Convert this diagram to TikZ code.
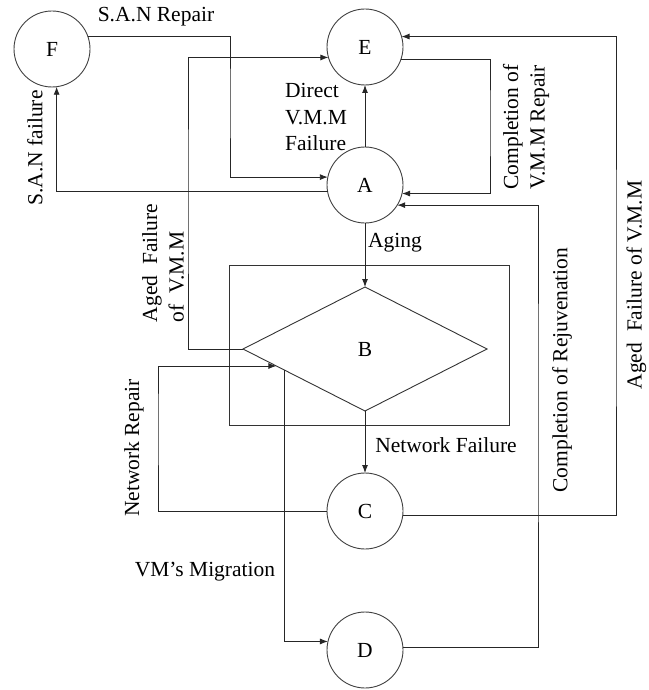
\documentclass[tikz,border=0pt]{standalone}
\usepackage{fontspec}
\setmainfont{Liberation Serif}
\usetikzlibrary{arrows.meta,shapes.geometric,calc}

\begin{document}
\begin{tikzpicture}[x=1pt,y=-1pt,
  every node/.style={font=\fontsize{21.5}{26.5}\selectfont},
  state/.style={circle,draw=black!75,line width=0.9pt,minimum size=76pt,inner sep=0pt,outer sep=0pt},
  decision/.style={diamond,draw=black!80,line width=0.9pt,minimum width=244pt,minimum height=124pt,inner sep=0pt,outer sep=0pt},
  framebox/.style={rectangle,draw=black!80,line width=0.9pt,minimum width=280pt,minimum height=160pt,inner sep=0pt,outer sep=0pt},
  link/.style={draw=black!85,line width=0.9pt},
  arr/.style={link,-{Latex[length=8pt,width=6pt]}},
  lbl/.style={inner sep=0pt,text=black}
]
\useasboundingbox (0,0) rectangle (648,690);

% frame around the decision node
\node[framebox] (frameB) at (369,345) {};

% states
\node[state] (F) at (52,49)  {F};
\node[state] (E) at (365,47) {E};
\node[state] (A) at (365,185) {A};
\node[decision] (B) at (365,349) {B};
\node[state] (C) at (365,511) {C};
\node[state] (D) at (365,650) {D};

% bend points of the orthogonal connectors
\coordinate (sanrep) at (230,100);
\coordinate (agedL)  at (188,200);
\coordinate (vmmrep) at (490,120);
\coordinate (rejuv)  at (538,400);
\coordinate (agedR)  at (616,300);
\coordinate (netrep) at (158,420);
\coordinate (netin)  at ($(B.west)!0.274!(B.south)$);
\coordinate (vmout)  at ($(B.west)!0.336!(B.south)$);

% S.A.N repair: F -> A
\draw[arr] (F.20) -| (sanrep) |- (A.168);
% S.A.N failure: A -> F
\draw[arr] (A.190.6) -| (F.277.6);
% aged failure of V.M.M (left): B -> E
\draw[arr] (B.west) -| (agedL) |- (E.196.8);
% direct V.M.M failure: A -> E
\draw[arr] (A.north) -- (E.south);
% completion of V.M.M repair: E -> A
\draw[arr] (E.341.6) -| (vmmrep) |- (A.347.8);
% completion of rejuvenation: D -> A
\draw[arr] (D.4.5) -| (rejuv) |- (A.-32.6);
% aged failure of V.M.M (right): C -> E
\draw[arr] (C.-6) -| (agedR) |- (E.16.8);
% aging: A -> B
\draw[arr] (A.south) -- (B.north);
% network failure: B -> C
\draw[arr] (B.south) -- (C.north);
% network repair: C -> B
\draw[arr] (C.181.5) -| (netrep) |- (netin);
% VM's migration: B -> D
\draw[arr] (vmout) |- (D.167.8);

% labels
\node[lbl] (lSanRep) at (156,17) {S.A.N Repair};
\node[lbl,rotate=90] (lSanFail) at (35,148) {S.A.N failure};
\node[lbl,align=left,anchor=west] (lDirect) at (285,117) {Direct\\V.M.M\\Failure};
\node[lbl,rotate=90,align=left] (lVmmRep) at (526,127) {Completion of\\V.M.M Repair};
\node[lbl,rotate=90,align=left] (lAgedL) at (163,263) {Aged\ \ Failure\\of\ \ V.M.M};
\node[lbl] (lAging) at (395,243) {Aging};
\node[lbl,rotate=90] (lNetRep) at (134,448) {Network Repair};
\node[lbl] (lNetFail) at (446,445) {Network Failure};
\node[lbl] (lMigr) at (205,572) {VM’s Migration};
\node[lbl,rotate=90] (lRejuv) at (562,370) {Completion of Rejuvenation};
\node[lbl,rotate=90,anchor=south] (lAgedR) at (646.5,285) {Aged\ \ Failure of V.M.M};
\end{tikzpicture}
\end{document}
